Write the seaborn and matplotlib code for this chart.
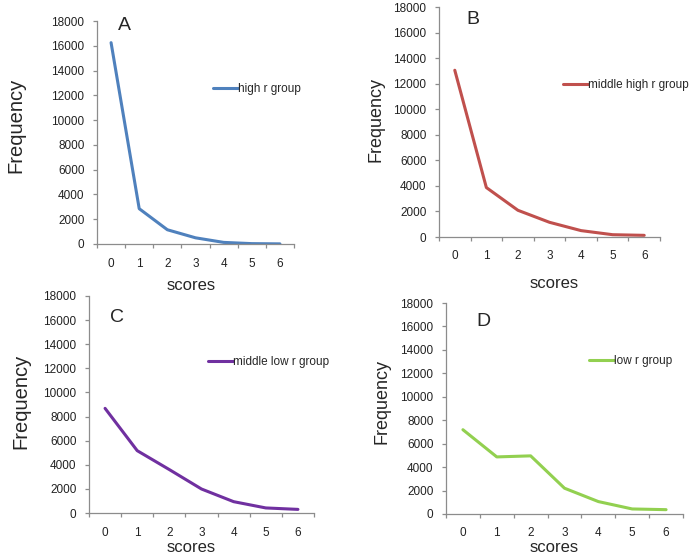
import numpy as np
import pandas as pd
import matplotlib
matplotlib.use("Agg")
import matplotlib.pyplot as plt
import seaborn as sns

# values
scores = [0, 1, 2, 3, 4, 5, 6]
high_r = [16250, 2850, 1150, 500, 130, 30, 10]
middle_high_r = [13050, 3870, 2090, 1150, 500, 180, 130]
middle_low_r = [8680, 5170, 3600, 1990, 940, 420, 300]
low_r = [7190, 4870, 4960, 2200, 1060, 430, 370]

panel_letters = ["A", "B", "C", "D"]
group_names = ["high r group", "middle high r group", "middle low r group", "low r group"]
group_values = [high_r, middle_high_r, middle_low_r, low_r]
colors = ["#4F81BD", "#C0504D", "#7030A0", "#92D050"]

sns.set_style("ticks")
plt.rcParams["font.family"] = ["Liberation Sans", "DejaVu Sans"]

W, H = 692, 559
fig = plt.figure(figsize=(W / 100, H / 100), dpi=100)


def px(x, y):
    # pixel position -> figure fraction
    return x / W, 1 - y / H


# axes boxes in pixels: left, top(18000), right, bottom(0)
boxes = [(97, 21, 294, 244), (439, 7, 660, 237), (89, 296, 314, 513), (446, 303, 683, 514)]
letter_pos = [(124, 25), (473, 20), (117, 318), (483, 322)]
legend_pos = [(213, 89), (563, 85), (208, 362), (589, 361)]
ylabel_pos = [(16, 125), (376, 120), (21, 401), (382, 401)]
ylabel_size = [14.5, 13, 14.5, 13]
xlabel_pos = [(191, 285), (554, 284), (191, 547), (554, 548)]
xtick_pad = [10, 9.5, 10, 9.5]

axis_gray = "#8c8c8c"

for i in range(4):
    l, t, r, b = boxes[i]
    ax = fig.add_axes([l / W, 1 - b / H, (r - l) / W, (b - t) / H])
    df = pd.DataFrame({"scores": scores, "Frequency": group_values[i]})
    sns.lineplot(data=df, x="scores", y="Frequency", ax=ax, color=colors[i],
                 linewidth=2.2, label=group_names[i])

    ax.set_xlim(-0.5, 6.5)
    ax.set_ylim(0, 18000)
    ax.set_yticks(np.arange(0, 18001, 2000))
    ax.set_xticks(scores)
    ax.set_xticks(np.arange(-0.5, 6.6, 1), minor=True)
    sns.despine(ax=ax)
    for s in ["left", "bottom"]:
        ax.spines[s].set_color(axis_gray)
        ax.spines[s].set_linewidth(0.9)
    ax.tick_params(axis="x", which="major", length=0, pad=xtick_pad[i], labelsize=8.5, labelcolor="#222222")
    ax.tick_params(axis="x", which="minor", length=3, width=0.9, color=axis_gray, direction="out")
    ax.tick_params(axis="y", length=3, width=0.9, color=axis_gray, pad=6, labelsize=8.5, labelcolor="#222222")

    ax.set_ylabel("Frequency", fontsize=ylabel_size[i], va="center")
    ax.yaxis.set_label_coords(*px(*ylabel_pos[i]), transform=fig.transFigure)
    ax.set_xlabel("scores", fontsize=12, va="center")
    ax.xaxis.set_label_coords(*px(*xlabel_pos[i]), transform=fig.transFigure)

    fig.text(*px(*letter_pos[i]), panel_letters[i], fontsize=14, ha="center", va="center")

    ax.legend(loc="center left", bbox_to_anchor=px(*legend_pos[i]), bbox_transform=fig.transFigure,
              frameon=False, fontsize=8.5, handlelength=2.1, handletextpad=0.05,
              borderpad=0, borderaxespad=0)

fig.savefig("out.png", dpi=100)
